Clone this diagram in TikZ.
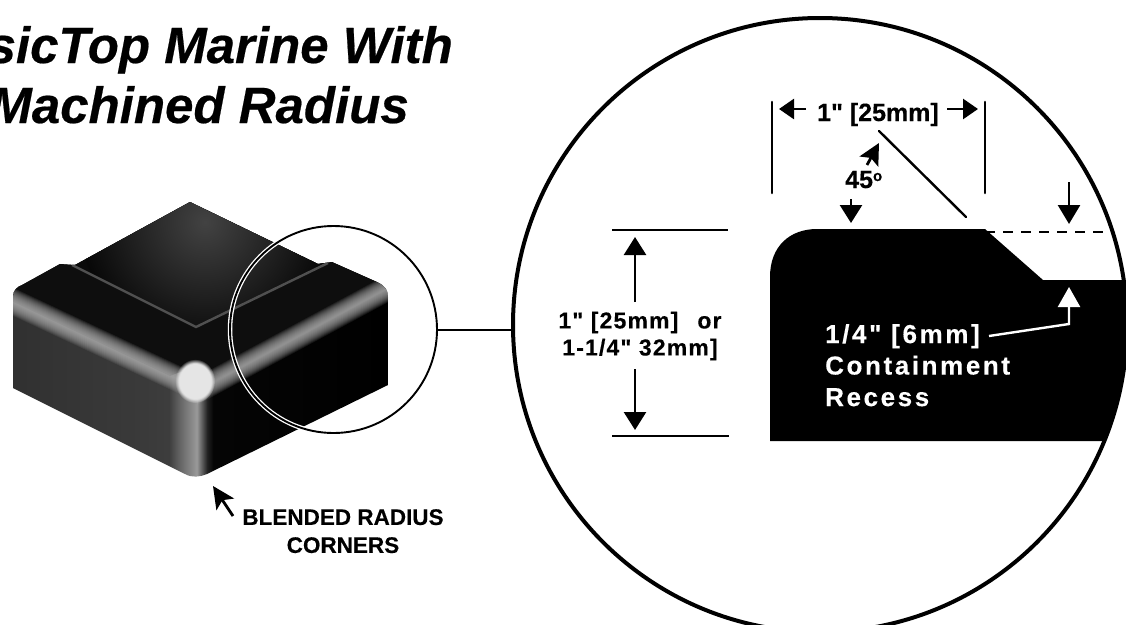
\documentclass[tikz,border=0pt]{standalone}
\usepackage{fontspec}
\setmainfont{Liberation Sans}
\newfontfamily\plainsans{Liberation Sans}
\usetikzlibrary{arrows.meta,fadings}
\definecolor{topdark}{HTML}{0E0E0E}
\definecolor{seam}{HTML}{505050}
\definecolor{sheen}{HTML}{B4B4B4}
\pgfdeclarehorizontalshading{basefaces}{100bp}{
 rgb(0bp)=(.19,.19,.19); rgb(25bp)=(.19,.19,.19); rgb(33.9bp)=(.21,.21,.21);
 rgb(43.3bp)=(.23,.23,.23); rgb(45.8bp)=(.24,.24,.24); rgb(47.3bp)=(.4,.4,.4);
 rgb(49.5bp)=(.6,.6,.6); rgb(50.9bp)=(.13,.13,.13); rgb(51.7bp)=(.02,.02,.02);
 rgb(75bp)=(0,0,0); rgb(100bp)=(0,0,0)}
\newcommand{\pxfont}[2]{\fontsize{#1}{#2}\selectfont}
\tikzset{
 dimline/.style={line width=2.6pt,black},
 dimarrow/.style={line width=2.6pt,black,-{Triangle[length=18pt,width=22pt]}},
 whitearrow/.style={line width=2.4pt,white,-{Triangle[length=20pt,width=22pt]}},
 pointer/.style={line width=2.8pt,black,-{Stealth[length=22pt,width=21pt,inset=5pt]}},
 dimtext/.style={font=\pxfont{25}{27}\plainsans\bfseries\addfontfeatures{FakeBold=0.3},inner sep=0pt},
 sidetext/.style={font=\pxfont{23}{27}\plainsans\bfseries\addfontfeatures{FakeBold=0.3,LetterSpace=5},inner sep=0pt,align=center},
 whitetext/.style={font=\pxfont{26}{31.5}\plainsans\bfseries\addfontfeatures{FakeBold=0.3,LetterSpace=10},inner sep=0pt,align=left,text=white},
 titletext/.style={font=\pxfont{51}{60}\plainsans\bfseries\itshape\addfontfeatures{FakeBold=0.4},inner sep=0pt},
 labeltext/.style={font=\pxfont{22.5}{28}\plainsans\bfseries\addfontfeatures{FakeBold=0.3},inner sep=0pt,align=center},
}
\begin{document}
\begin{tikzpicture}[x=1pt,y=-1pt]
\useasboundingbox (0,0) rectangle (1126,624);
% title
\node[titletext,anchor=base east] (title1) at (453,63) {sicTop Marine With};
\node[titletext,anchor=base east] (title2) at (409,123) {Machined Radius};
% block
\begin{scope}
 \clip (190,202) -- (318,264) -- (332,262) -- (377,282) .. controls (385,286) and (388,290) .. (388,297)
  -- (388,385) -- (207,474) .. controls (200,477) and (192,478) .. (185,474) -- (13,388) -- (13,297)
  .. controls (13,290) and (17,287) .. (22,285) -- (60,264) -- (75,265) -- cycle;
 \shade[shading=basefaces] (13,200) rectangle (388,480);
 \fill[topdark] (0,295.6) -- (170,376) .. controls (188,368) and (204,368) .. (225,377) -- (390,288) -- (390,200) -- (0,200) -- cycle;
 % inner top face
 \begin{scope}
  \clip (190,202) -- (328,263) -- (196,327) -- (72,265) -- cycle;
  \fill[black!96] (60,200) rectangle (340,330);
  \shade[inner color=black!74, outer color=black!97] (205,222) circle[radius=125];
 \end{scope}
 % sheen bands: nested strips build a soft cross profile
 \foreach \h in {1,...,14}{
  \fill[sheen,fill opacity=.11] (0,295.6-\h) -- (197,388-\h) -- (197,388+\h) -- (0,295.6+\h) -- cycle;
  \fill[sheen,fill opacity=.11] (197,391-\h) -- (392,286-\h) -- (392,286+\h) -- (197,391+\h) -- cycle;
 }
 \fill[white!90!black,path fading=circle with fuzzy edge 20 percent] (195,381) ellipse[x radius=20,y radius=22];
 \draw[seam,line width=2.4pt] (72,265) -- (196,327) -- (328,263);
\end{scope}
% loupe
\draw[white,line width=4.5pt] (333.5,329.5) circle[radius=103.5];
\node[circle,draw=black,line width=1.9pt,minimum size=207pt,inner sep=0pt] (small) at (333.5,329.5) {};
\node[circle,draw=black,line width=4pt,minimum size=614pt,inner sep=0pt] (big) at (820,325) {};
\draw[line width=2pt] (small.east) -- (small.east -| big.west);
% profile
\begin{scope}
 \clip (820,325) circle[radius=306];
 \fill[black] (770,441) -- (770,277) .. controls (770,246) and (790,229) .. (817,229) -- (985,229) -- (1043,280) -- (1130,280) -- (1130,441) -- cycle;
\end{scope}
\coordinate (dashA) at (985,232); \coordinate (dashB) at (1112,232);
\draw[line width=2pt,dash pattern=on 10pt off 8pt] (dashA) -- (dashB);
% extension lines
\coordinate (e1a) at (772,102); \coordinate (e1b) at (772,193);
\coordinate (e2a) at (985,102); \coordinate (e2b) at (985,193);
\draw[dimline,line cap=round] (e1a) -- (e1b);
\draw[dimline,line cap=round] (e2a) -- (e2b);
\coordinate (wa) at (806,109); \coordinate (wb) at (779,109);
\coordinate (wc) at (947,109); \coordinate (wd) at (978,109);
\draw[dimarrow,-{Triangle[length=15pt,width=20pt]}] (wa) -- (wb);
\draw[dimarrow,-{Triangle[length=15pt,width=20pt]}] (wc) -- (wd);
\node[dimtext,anchor=base] (widthlabel) at (878,121) {1" [25mm]};
% 45 degree
\coordinate (dg1) at (879,131); \coordinate (dg2) at (966,217);
\draw[line width=2.4pt,line cap=round] (dg1) -- (dg2);
\coordinate (ang1) at (867,165); \coordinate (ang2) at (879,143);
\draw[pointer,-{Stealth[length=21pt,width=21pt,inset=4pt]}] (ang1) -- (ang2);
\node[dimtext,anchor=base west] (anglelabel) at (845,188) {45\raisebox{7pt}{\pxfont{15}{15}o}};
\coordinate (ad1) at (851,199); \coordinate (ad2) at (851,223);
\draw[dimarrow] (ad1) -- (ad2);
\coordinate (rd1) at (1069,182); \coordinate (rd2) at (1069,224);
\draw[dimarrow,-{Triangle[length=19pt,width=22pt]}] (rd1) -- (rd2);
% left dimension
\coordinate (la) at (612,230); \coordinate (lb) at (728,230);
\coordinate (lc) at (612,436); \coordinate (ld) at (729,436);
\draw[dimline] (la) -- (lb);
\draw[dimline] (lc) -- (ld);
\coordinate (ua) at (635,302); \coordinate (ub) at (635,237);
\coordinate (da) at (635,369); \coordinate (db) at (635,430);
\draw[dimarrow] (ua) -- (ub);
\draw[dimarrow] (da) -- (db);
\node[sidetext,anchor=center] (heightlabel) at (640,336) {1" [25mm]\hspace{0.5em} or\\1-1/4" 32mm]};
% white callout
\coordinate (wc1) at (989,336); \coordinate (wc2) at (1069,324); \coordinate (wc3) at (1069,287);
\draw[whitearrow] (wc1) -- (wc2) -- (wc3);
\node[whitetext,anchor=north west] (recess) at (825,324) {1/4" [6mm]\\Containment\\Recess};
% blended label
\coordinate (bl1) at (233,516); \coordinate (bl2) at (213,486);
\draw[pointer] (bl1) -- (bl2);
\node[labeltext,anchor=north] (blended) at (343,509) {BLENDED RADIUS\\CORNERS};
\end{tikzpicture}
\end{document}
